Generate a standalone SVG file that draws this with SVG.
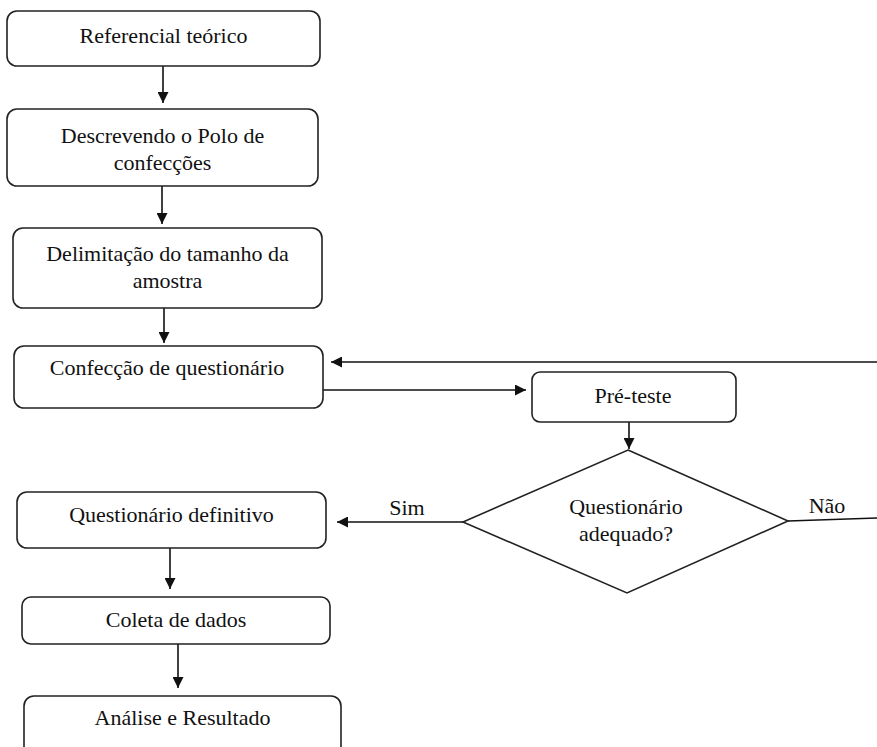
<svg xmlns="http://www.w3.org/2000/svg" width="877" height="747" viewBox="0 0 877 747">
<style>
.box{fill:#fff;stroke:#222;stroke-width:1.6}
.t{font-family:"Liberation Serif","Times New Roman",serif;font-size:22px;fill:#111;text-anchor:middle}
.c{fill:none;stroke:#111;stroke-width:1.6}
</style>
<defs>
<marker id="ah" markerUnits="userSpaceOnUse" markerWidth="11" markerHeight="11" refX="11" refY="5.5" orient="auto">
<path d="M0,0 L11,5.5 L0,11 z" fill="#111"/>
</marker>
</defs>
<rect width="877" height="747" fill="#fff"/>
<g id="connectors">
<line class="c" x1="163" y1="66" x2="163" y2="103" marker-end="url(#ah)"/>
<line class="c" x1="162" y1="186" x2="162" y2="224" marker-end="url(#ah)"/>
<line class="c" x1="164" y1="308" x2="164" y2="343" marker-end="url(#ah)"/>
<line class="c" x1="323" y1="390" x2="526" y2="390" marker-end="url(#ah)"/>
<line class="c" x1="877" y1="362" x2="331" y2="362" marker-end="url(#ah)"/>
<line class="c" x1="629" y1="422" x2="629" y2="449" marker-end="url(#ah)"/>
<line class="c" x1="463" y1="522" x2="337" y2="522" marker-end="url(#ah)"/>
<line class="c" x1="788" y1="521" x2="877" y2="518"/>
<line class="c" x1="170" y1="548" x2="170" y2="589" marker-end="url(#ah)"/>
<line class="c" x1="178" y1="644" x2="178" y2="688" marker-end="url(#ah)"/>
<text class="t" x="407" y="515">Sim</text>
<text class="t" x="827" y="513">Não</text>
</g>
<g id="n1">
<rect class="box" x="7" y="11" width="313" height="55" rx="10"/>
<text class="t" x="163.5" y="43">Referencial teórico</text>
</g>
<g id="n2">
<rect class="box" x="7" y="109" width="311" height="77" rx="10"/>
<text class="t" x="162.5" y="143">Descrevendo o Polo de</text>
<text class="t" x="162.5" y="170">confecções</text>
</g>
<g id="n3">
<rect class="box" x="13" y="228" width="309" height="80" rx="10"/>
<text class="t" x="167.5" y="261">Delimitação do tamanho da</text>
<text class="t" x="167.5" y="288">amostra</text>
</g>
<g id="n4">
<rect class="box" x="14" y="346" width="309" height="62" rx="10"/>
<text class="t" x="167" y="375">Confecção de questionário</text>
</g>
<g id="n5">
<rect class="box" x="532" y="372" width="204" height="50" rx="8"/>
<text class="t" x="633" y="403">Pré-teste</text>
</g>
<g id="n6">
<polygon class="box" points="628,450 788,521 627,593 463,522"/>
<text class="t" x="626" y="514">Questionário</text>
<text class="t" x="626" y="541">adequado?</text>
</g>
<g id="n7">
<rect class="box" x="17" y="492" width="309" height="56" rx="10"/>
<text class="t" x="171.5" y="522">Questionário definitivo</text>
</g>
<g id="n8">
<rect class="box" x="22" y="597" width="308" height="47" rx="9"/>
<text class="t" x="176" y="627">Coleta de dados</text>
</g>
<g id="n9">
<rect class="box" x="24" y="696" width="317" height="80" rx="10"/>
<text class="t" x="182.5" y="725">Análise e Resultado</text>
</g>
</svg>
